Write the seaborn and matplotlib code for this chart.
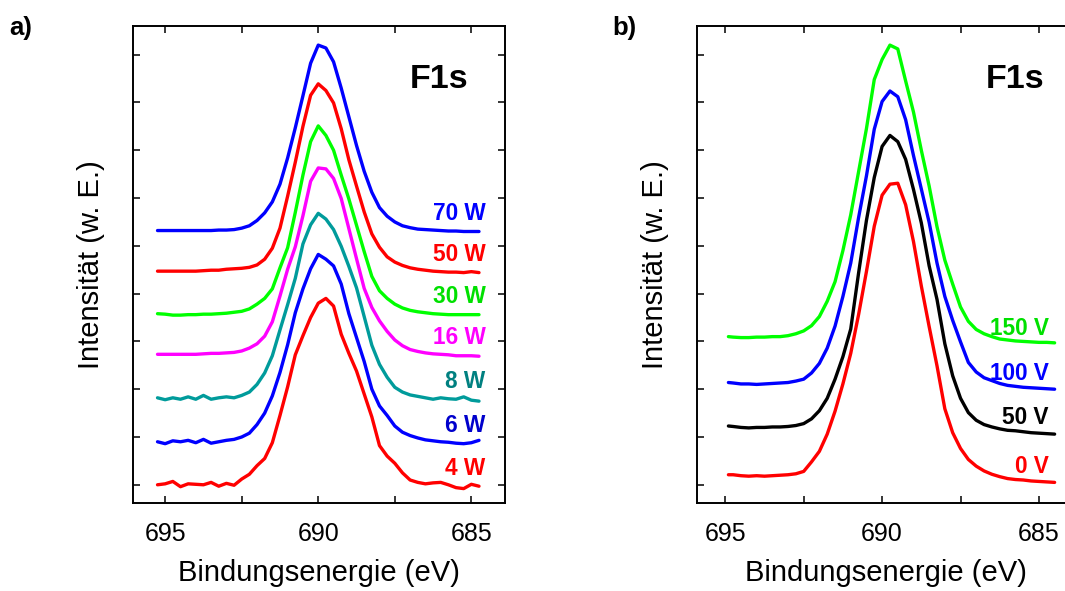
import matplotlib
matplotlib.use('Agg')
import matplotlib.pyplot as plt
import seaborn as sns
import pandas as pd

# Panel a: F1s-Spektren bei verschiedener Leistung
ENERGY_A = [695.25, 695.0, 694.75, 694.5, 694.25, 694.0, 693.75, 693.5, 693.25, 693.0,
            692.75, 692.5, 692.25, 692.0, 691.75, 691.5, 691.25, 691.0, 690.75, 690.5,
            690.25, 690.0, 689.75, 689.5, 689.25, 689.0, 688.75, 688.5, 688.25, 688.0,
            687.75, 687.5, 687.25, 687.0, 686.75, 686.5, 686.25, 686.0, 685.75, 685.5,
            685.25, 685.0, 684.75]

INT_4W = [0.0, 0.02, 0.07, -0.04, 0.02, 0.01, 0.0, 0.05, -0.03, 0.03,
          -0.01, 0.12, 0.22, 0.40, 0.55, 0.88, 1.45, 2.05, 2.72, 3.12,
          3.50, 3.80, 3.90, 3.74, 3.15, 2.75, 2.38, 1.90, 1.42, 0.82,
          0.60, 0.45, 0.25, 0.10, 0.05, 0.02, 0.04, 0.05, 0.0, -0.06,
          -0.08, 0.01, -0.03]
INT_6W = [0.0, -0.04, 0.02, 0.0, 0.03, -0.02, 0.05, -0.03, 0.0, 0.03,
          0.05, 0.10, 0.18, 0.36, 0.60, 0.96, 1.45, 2.03, 2.70, 3.20,
          3.62, 3.92, 3.82, 3.68, 3.30, 2.68, 2.18, 1.68, 1.10, 0.75,
          0.55, 0.33, 0.20, 0.13, 0.08, 0.04, 0.02, 0.0, -0.01, -0.03,
          -0.04, -0.02, 0.03]
INT_8W = [0.0, -0.04, 0.0, -0.03, 0.02, -0.03, 0.05, -0.03, 0.0, 0.02,
          0.0, 0.05, 0.12, 0.28, 0.52, 0.88, 1.42, 1.95, 2.50, 3.22,
          3.62, 3.86, 3.74, 3.52, 3.17, 2.75, 2.30, 1.70, 1.10, 0.70,
          0.43, 0.22, 0.12, 0.06, 0.03, 0.0, -0.03, 0.0, -0.02, -0.03,
          0.02, -0.05, -0.07]
INT_16W = [0.0, 0.0, 0.0, 0.0, 0.0, 0.0, 0.01, 0.02, 0.02, 0.03,
           0.04, 0.07, 0.13, 0.22, 0.38, 0.68, 1.22, 1.78, 2.25, 2.90,
           3.62, 3.90, 3.88, 3.68, 3.26, 2.63, 2.00, 1.38, 0.98, 0.70,
           0.48, 0.30, 0.18, 0.10, 0.06, 0.03, 0.01, 0.0, -0.01, -0.03,
           -0.03, -0.03, -0.04]
INT_30W = [0.0, -0.01, -0.03, -0.03, -0.02, -0.02, -0.01, -0.01, 0.0, 0.01,
           0.03, 0.05, 0.10, 0.20, 0.32, 0.52, 0.96, 1.38, 2.12, 2.90,
           3.60, 3.93, 3.73, 3.42, 2.90, 2.40, 1.85, 1.30, 0.78, 0.48,
           0.32, 0.20, 0.12, 0.07, 0.04, 0.02, 0.0, -0.01, -0.02, -0.02,
           -0.02, -0.02, -0.02]
INT_50W = [0.0, 0.0, 0.0, 0.0, 0.0, 0.0, 0.01, 0.02, 0.02, 0.04,
           0.05, 0.06, 0.08, 0.13, 0.25, 0.48, 0.90, 1.57, 2.28, 3.03,
           3.68, 3.92, 3.78, 3.52, 2.98, 2.33, 1.78, 1.24, 0.78, 0.50,
           0.30, 0.19, 0.12, 0.07, 0.04, 0.02, 0.0, -0.01, -0.02, -0.02,
           -0.03, -0.01, -0.03]
INT_70W = [0.0, 0.0, 0.0, 0.0, 0.0, 0.0, 0.0, 0.0, 0.01, 0.01,
           0.02, 0.05, 0.10, 0.21, 0.37, 0.60, 0.97, 1.52, 2.15, 2.82,
           3.50, 3.88, 3.82, 3.53, 2.98, 2.38, 1.78, 1.24, 0.80, 0.48,
           0.30, 0.18, 0.10, 0.06, 0.03, 0.02, 0.01, 0.0, -0.01, -0.01,
           -0.02, -0.02, -0.02]

LABELS_A = ['4 W', '6 W', '8 W', '16 W', '30 W', '50 W', '70 W']
CURVES_A = [INT_4W, INT_6W, INT_8W, INT_16W, INT_30W, INT_50W, INT_70W]
OFFSETS_A = [0.0, 0.9, 1.82, 2.73, 3.58, 4.47, 5.32]
LINE_COLORS_A = ['#FF0000', '#0000FF', '#009B9B', '#FF00FF', '#00FF00', '#FF0000', '#0000FF']
TEXT_COLORS_A = ['#FF0000', '#0000CC', '#008080', '#FF00FF', '#00E000', '#FF0000', '#0000FF']

# Panel b: F1s-Spektren bei verschiedener Biasspannung
ENERGY_B = [694.9, 694.75, 694.5, 694.25, 694.0, 693.75, 693.5, 693.25, 693.0, 692.75,
            692.5, 692.25, 692.0, 691.75, 691.5, 691.25, 691.0, 690.75, 690.5, 690.25,
            690.0, 689.75, 689.5, 689.25, 689.0, 688.75, 688.5, 688.25, 688.0, 687.75,
            687.5, 687.25, 687.0, 686.75, 686.5, 686.25, 686.0, 685.75, 685.5, 685.25,
            685.0, 684.75, 684.5]

INT_0V = [0.0, 0.0, -0.02, -0.03, -0.02, -0.03, -0.02, -0.01, 0.0, 0.02,
          0.07, 0.27, 0.49, 0.85, 1.33, 1.90, 2.54, 3.35, 4.25, 5.20,
          5.85, 6.08, 6.10, 5.65, 4.88, 3.95, 3.10, 2.28, 1.38, 0.88,
          0.55, 0.32, 0.18, 0.08, 0.01, -0.04, -0.08, -0.10, -0.11, -0.13,
          -0.14, -0.15, -0.16]
INT_50V = [0.0, -0.01, -0.03, -0.04, -0.03, -0.03, -0.02, -0.02, -0.01, 0.01,
           0.05, 0.15, 0.32, 0.58, 0.98, 1.45, 2.03, 3.20, 4.30, 5.20,
           5.85, 6.08, 5.95, 5.58, 4.95, 4.25, 3.35, 2.65, 1.72, 1.05,
           0.58, 0.28, 0.12, 0.03, -0.02, -0.06, -0.09, -0.10, -0.12, -0.14,
           -0.15, -0.16, -0.17]
INT_100V = [0.0, -0.01, -0.03, -0.03, -0.04, -0.03, -0.02, -0.01, 0.0, 0.03,
            0.07, 0.20, 0.40, 0.72, 1.18, 1.80, 2.50, 3.45, 4.32, 5.30,
            5.88, 6.10, 5.98, 5.50, 4.75, 4.05, 3.35, 2.50, 1.80, 1.30,
            0.85, 0.42, 0.22, 0.10, 0.04, -0.02, -0.06, -0.08, -0.10, -0.11,
            -0.12, -0.13, -0.14]
INT_150V = [0.0, -0.01, -0.02, -0.02, -0.01, -0.01, 0.0, 0.0, 0.02, 0.06,
            0.12, 0.23, 0.42, 0.74, 1.15, 1.80, 2.55, 3.45, 4.35, 5.38,
            5.80, 6.10, 6.02, 5.35, 4.70, 3.90, 3.15, 2.30, 1.60, 1.10,
            0.62, 0.32, 0.15, 0.06, 0.0, -0.05, -0.07, -0.09, -0.10, -0.11,
            -0.12, -0.12, -0.13]

LABELS_B = ['0 V', '50 V', '100 V', '150 V']
CURVES_B = [INT_0V, INT_50V, INT_100V, INT_150V]
OFFSETS_B = [0.21, 1.23, 2.14, 3.1]
LINE_COLORS_B = ['#FF0000', '#000000', '#0000FF', '#00FF00']
TEXT_COLORS_B = ['#FF0000', '#000000', '#0000FF', '#00E000']


def stack_frame(energy, curves, labels, offsets):
    rows = []
    for lab, vals, off in zip(labels, curves, offsets):
        for e, v in zip(energy, vals):
            rows.append({'energie': e, 'intensitaet': v + off, 'probe': lab})
    return pd.DataFrame(rows)


def draw_panel(ax, energy, curves, labels, offsets, line_colors, text_colors,
               xlim, label_x, label_dy, f1s_x):
    df = stack_frame(energy, curves, labels, offsets)
    sns.lineplot(data=df, x='energie', y='intensitaet', hue='probe', hue_order=labels,
                 palette=dict(zip(labels, line_colors)), sort=False, estimator=None,
                 legend=False, linewidth=2.4, ax=ax)

    for lab, off, col in zip(labels, offsets, text_colors):
        ax.text(label_x, off + label_dy, lab, color=col, fontsize=16.3,
                fontweight='bold', ha='right', va='center')

    ax.text(f1s_x, 0.888, 'F1s', transform=ax.transAxes, fontsize=24.5,
            fontweight='bold', ha='left', va='center')

    ax.set_xlim(*xlim)
    ax.set_ylim(-0.38, 9.6)
    ax.set_xticks([695, 690, 685])
    ax.set_xticks([692.5, 687.5], minor=True)
    ax.set_yticks(range(10))
    ax.tick_params(axis='both', which='both', direction='in', top=True, right=True,
                   length=5, width=1.1, labelleft=False, labelsize=18, pad=14,
                   colors='black')
    for sp in ax.spines.values():
        sp.set_linewidth(1.4)
        sp.set_color('black')
    ax.set_xlabel('Bindungsenergie (eV)', fontsize=21, labelpad=9, color='black')
    ax.set_ylabel('Intensität (w. E.)', fontsize=21, labelpad=20, color='black')


sns.set_style('ticks')
plt.rcParams['font.family'] = ['Liberation Sans', 'DejaVu Sans']
plt.rcParams['text.color'] = 'black'

fig = plt.figure(figsize=(10.65, 5.91), dpi=100)
ax_a = fig.add_axes([0.1249, 0.149, 0.3493, 0.807])
ax_b = fig.add_axes([0.6545, 0.149, 0.3549, 0.807])

draw_panel(ax_a, ENERGY_A, CURVES_A, LABELS_A, OFFSETS_A, LINE_COLORS_A, TEXT_COLORS_A,
           xlim=(696.05, 683.9), label_x=684.54, label_dy=0.35, f1s_x=0.745)
draw_panel(ax_b, ENERGY_B, CURVES_B, LABELS_B, OFFSETS_B, LINE_COLORS_B, TEXT_COLORS_B,
           xlim=(695.9, 683.85), label_x=684.68, label_dy=0.18, f1s_x=0.765)

fig.text(0.009, 0.953, 'a)', fontsize=18.5, fontweight='bold', ha='left', va='center')
fig.text(0.575, 0.953, 'b)', fontsize=18.5, fontweight='bold', ha='left', va='center')

fig.savefig('out.png', dpi=100)
plt.close(fig)
